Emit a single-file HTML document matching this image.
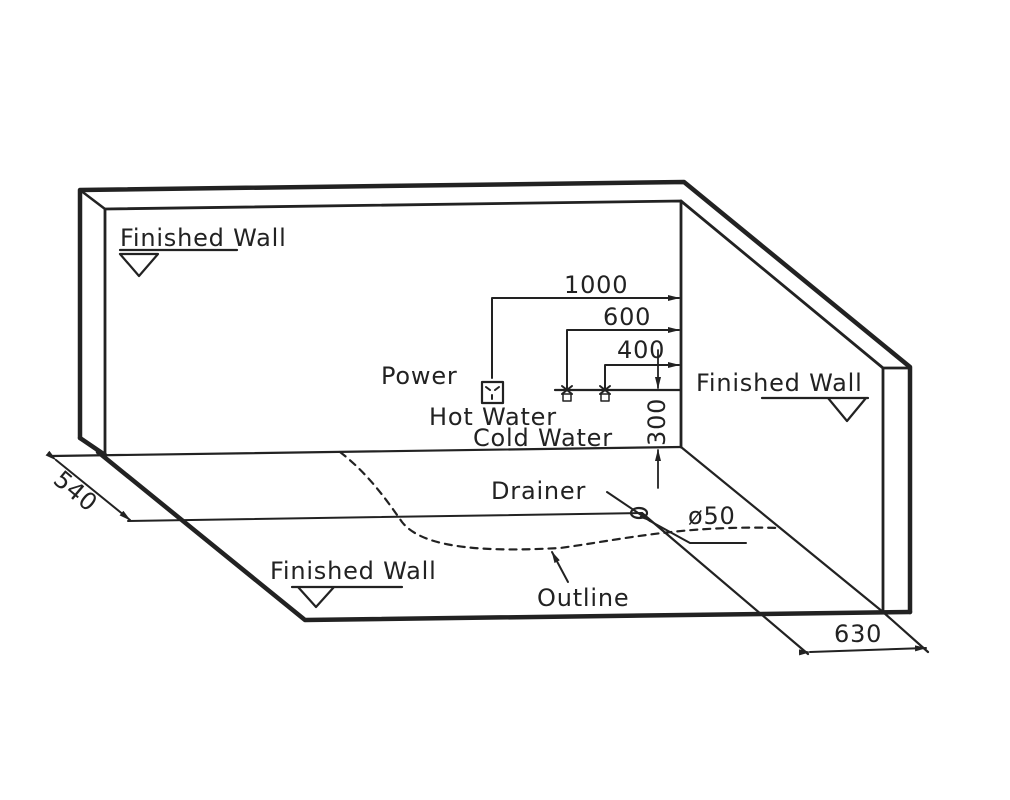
<!DOCTYPE html>
<html><head><meta charset="utf-8"><style>
html,body{margin:0;padding:0;background:#fff;}
svg{display:block}
text{font-family:"DejaVu Sans","Liberation Sans",sans-serif;font-size:24px;letter-spacing:0.8px;fill:#222}
</style></head><body>
<svg width="1010" height="800" viewBox="0 0 1010 800" xmlns="http://www.w3.org/2000/svg">
<defs>
<marker id="a" markerWidth="12" markerHeight="8" refX="11" refY="4" orient="auto" markerUnits="userSpaceOnUse"><path d="M0,1 L12,4 L0,7 Z" fill="#222"/></marker>
</defs>
<g stroke="#222" fill="none" stroke-linecap="round" stroke-linejoin="round">
<path d="M80,438 L80,190 L684,182 L910,367 L910,612" stroke-width="4.5"/>
<path d="M80,190 L105,209" stroke-width="2.5"/>
<path d="M105,455 L105,209 L681,201 L681,447" stroke-width="2.8"/>
<path d="M681,201 L883,368 L910,368" stroke-width="2.8"/>
<path d="M883,368 L883,612" stroke-width="2.8"/>
<path d="M80,438 L105,455" stroke-width="4.5"/>
<path d="M52,456 L681,447" stroke-width="2.2"/>
<path d="M98,452 L305,620 L910,612" stroke-width="4.5"/>
<path d="M681,447 L883,612 L928,652" stroke-width="2.2"/>
<path d="M56,460 L130,520" stroke-width="2" marker-start="url(#a)" marker-end="url(#a)"/>
<path d="M128,521 L642,513" stroke-width="2"/>
<path d="M642,513 L808,654" stroke-width="2.2"/>
<path d="M810,652 L926,648" stroke-width="2" marker-start="url(#a)" marker-end="url(#a)"/>
<path d="M340,452 C370,475 390,505 402,522 C420,545 470,553 560,548 C620,540 680,525 780,528" stroke-width="2.2" stroke-dasharray="7,6"/>
<ellipse cx="639" cy="513" rx="8" ry="5" stroke-width="2.2"/>
<path d="M607,492 L650,521" stroke-width="2" marker-end="url(#a)"/>
<path d="M650,521 L690,543 L746,543" stroke-width="2"/>
<path d="M568,582 L552,552" stroke-width="2" marker-end="url(#a)"/>
<path d="M120,250 L237,250 M120,254 L158,254 L139,276 Z" stroke-width="2.2"/>
<path d="M762,398 L868,398 M828,398 L866,398 L847,421 Z" stroke-width="2.2"/>
<path d="M292,587 L402,587 M298,587 L334,587 L316,607 Z" stroke-width="2.2"/>
<path d="M492,378 L492,298 L679,298" stroke-width="2" marker-end="url(#a)"/>
<path d="M567,388 L567,330 L679,330" stroke-width="2" marker-end="url(#a)"/>
<path d="M605,388 L605,365 L679,365" stroke-width="2" marker-end="url(#a)"/>
<path d="M555,390 L680,390" stroke-width="2.2"/>
<path d="M658,350 L658,388" stroke-width="1.8" marker-end="url(#a)"/>
<path d="M658,488 L658,450" stroke-width="1.8" marker-end="url(#a)"/>
<rect x="482" y="382" width="21" height="21" stroke-width="2.2"/>
<path d="M486,387 L490,390 M499,387 L495,390 M492,395 L492,399" stroke-width="2"/>
<path d="M562,386 L572,394 M572,386 L562,394 M600,386 L610,394 M610,386 L600,394" stroke-width="2"/>
<rect x="563" y="394" width="8" height="7" stroke-width="1.5"/>
<rect x="601" y="394" width="8" height="7" stroke-width="1.5"/>
</g>
<text x="120" y="246">Finished Wall</text>
<text x="696" y="391">Finished Wall</text>
<text x="270" y="579">Finished Wall</text>
<text x="564" y="293">1000</text>
<text x="603" y="325">600</text>
<text x="617" y="358">400</text>
<text x="381" y="384">Power</text>
<text x="429" y="425">Hot Water</text>
<text x="473" y="446">Cold Water</text>
<text transform="translate(665,446) rotate(-90)">300</text>
<text x="491" y="499">Drainer</text>
<text x="688" y="524">ø50</text>
<text x="537" y="606">Outline</text>
<text x="834" y="642">630</text>
<text transform="translate(52,482) rotate(40)">540</text>
</svg>
</body></html>
